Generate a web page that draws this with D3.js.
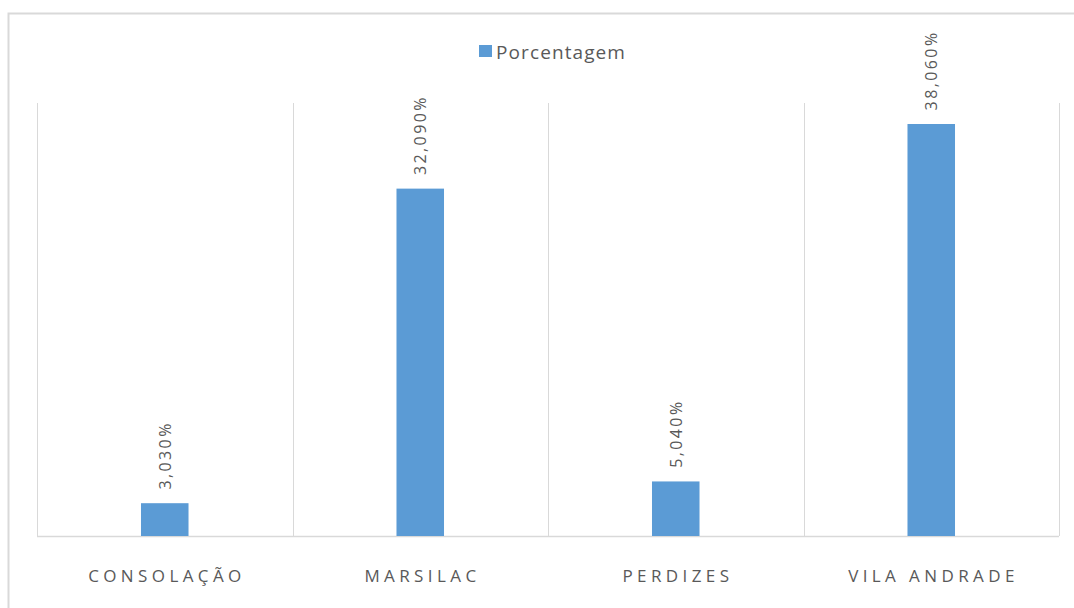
<!DOCTYPE html>
<html>
<head>
<meta charset="utf-8">
<script src="https://cdn.jsdelivr.net/npm/d3@7"></script>
<style>
  html, body { margin: 0; padding: 0; background: #ffffff; }
  svg { display: block; }
</style>
</head>
<body>
<svg id="chart" width="1074" height="608"></svg>
<script>
// Share of each district (percent)
const categories = ["CONSOLAÇÃO", "MARSILAC", "PERDIZES", "VILA ANDRADE"];
const values = [3.03, 32.09, 5.04, 38.06];
const valueLabels = ["3,030%", "32,090%", "5,040%", "38,060%"];
const seriesName = "Porcentagem";

const W = 1074, H = 608;
const plot = { left: 37, right: 1059, top: 103, bottom: 536 };
const barColor = "#5B9BD5";
const textColor = "#595959";
const gridColor = "#d9d9d9";
const font = "'Open Sans', 'Noto Sans', sans-serif";

const svg = d3.select("#chart");

// outer frame of the chart object
svg.append("rect")
  .attr("x", 8.5).attr("y", 13.5)
  .attr("width", W + 20).attr("height", H + 20)
  .attr("fill", "#ffffff")
  .attr("stroke", gridColor)
  .attr("stroke-width", 2);

const x = d3.scaleBand()
  .domain(categories)
  .range([plot.left, plot.right])
  .padding(0);

const y = d3.scaleLinear()
  .domain([0, 40])
  .range([plot.bottom, plot.top]);

// vertical separators between categories
const bounds = categories.map(c => x(c)).concat([x.range()[1]]);
svg.append("g")
  .selectAll("line")
  .data(bounds)
  .join("line")
  .attr("x1", d => Math.round(d) + 0.5)
  .attr("x2", d => Math.round(d) + 0.5)
  .attr("y1", plot.top)
  .attr("y2", plot.bottom)
  .attr("stroke", gridColor)
  .attr("stroke-width", 1);

// baseline
svg.append("line")
  .attr("x1", plot.left).attr("x2", plot.right)
  .attr("y1", y(0) + 0.5).attr("y2", y(0) + 0.5)
  .attr("stroke", gridColor)
  .attr("stroke-width", 1.5);

const barFrac = 0.186;
const bw = x.bandwidth() * barFrac;
const data = categories.map((c, i) => ({ c, v: values[i], label: valueLabels[i] }));

svg.append("g")
  .selectAll("rect")
  .data(data)
  .join("rect")
  .attr("x", d => x(d.c) + (x.bandwidth() - bw) / 2)
  .attr("y", d => y(d.v))
  .attr("width", bw)
  .attr("height", d => y(0) - y(d.v))
  .attr("fill", barColor);

// rotated value labels above bars
const valSpacing = 2.4;
svg.append("g")
  .selectAll("text")
  .data(data)
  .join("text")
  .attr("transform", d => `translate(${x(d.c) + x.bandwidth() / 2 + 0.5},${y(d.v) - 16 + valSpacing}) rotate(-90)`)
  .attr("dy", "0.35em")
  .attr("text-anchor", "start")
  .attr("font-family", font)
  .attr("font-size", 16)
  .attr("letter-spacing", valSpacing + "px")
  .attr("fill", textColor)
  .text(d => d.label);

// category labels
const catSpacing = 4.4;
svg.append("g")
  .selectAll("text")
  .data(categories)
  .join("text")
  .attr("x", d => x(d) + x.bandwidth() / 2 + catSpacing / 2)
  .attr("y", 582)
  .attr("text-anchor", "middle")
  .attr("font-family", font)
  .attr("font-size", 17)
  .attr("letter-spacing", catSpacing + "px")
  .attr("fill", textColor)
  .text(d => d);

// legend
const legend = svg.append("g");
legend.append("rect")
  .attr("x", 479).attr("y", 45)
  .attr("width", 13).attr("height", 12)
  .attr("fill", barColor);
legend.append("text")
  .attr("x", 496).attr("y", 59)
  .attr("font-family", font)
  .attr("font-size", 19)
  .attr("letter-spacing", "1.1px")
  .attr("fill", textColor)
  .text(seriesName);
</script>
</body>
</html>
